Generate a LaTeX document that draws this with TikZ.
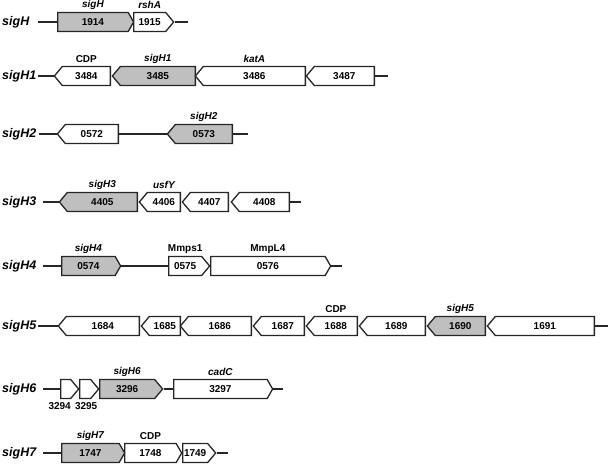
\documentclass[tikz,border=0pt]{standalone}
\usepackage{fontspec}
\setmainfont{Liberation Sans}
\usetikzlibrary{shapes.symbols}
\tikzstyle{gene} = [signal, signal from=nowhere, signal pointer angle=100, draw=black!85, line width=1.3pt, minimum height=19pt, inner sep=0pt, fill=white, font=\fontsize{10}{10}\selectfont\bfseries]
\tikzstyle{fwd} = [gene, signal to=east, anchor=west]
\tikzstyle{rev} = [gene, signal to=west, anchor=east]
\tikzstyle{blunt} = [signal pointer angle=120]
\tikzstyle{sigma} = [fill=black!25]
\tikzstyle{tag} = [inner sep=0pt, font=\fontsize{10}{10}\selectfont\bfseries]
\tikzstyle{gname} = [tag, font=\fontsize{10}{10}\selectfont\bfseries\itshape]
\tikzstyle{rowlabel} = [anchor=west, inner sep=0pt, font=\fontsize{12.5}{12.5}\selectfont\bfseries\itshape]
\tikzstyle{dna} = [line width=1.4pt, black!85]

\begin{document}
\begin{tikzpicture}[x=1pt, y=-1pt, node distance=17pt]
\useasboundingbox (0,0) rectangle (608,464);

% --------- sigH ----------
\node (rH) [rowlabel] at (2,22) {sigH};
\coordinate (aH) at (38,22);
\node (g1914) [fwd, blunt, sigma, minimum width=76pt] at (57,22) {1914};
\node (g1915) [fwd, minimum width=40pt] at (133,22) {1915};
\coordinate (bH) at (188,22);
\node (nH)   [gname, above of=g1914] {sigH};
\node (nRsh) [gname, above of=g1915] {rshA};
\draw [dna] (aH) -- (g1914.west);
\draw [dna] (g1915.east) -- (bH);

% --------- sigH1 ----------
\node (rH1) [rowlabel] at (2,76) {sigH1};
\coordinate (aH1) at (38,76);
\node (g3484) [rev, minimum width=56pt] at (111,76) {3484};
\node (g3485) [rev, sigma, minimum width=83pt] at (196,76) {3485};
\node (g3486) [rev, minimum width=110pt] at (306,76) {3486};
\node (g3487) [rev, minimum width=68pt] at (375,76) {3487};
\coordinate (bH1) at (388,76);
\node (tCdp1) [tag, above of=g3484] {CDP};
\node (nH1)   [gname, above of=g3485] {sigH1};
\node (nKat)  [gname, above of=g3486] {katA};
\draw [dna] (aH1) -- (g3484.west);
\draw [dna] (g3487.east) -- (bH1);

% --------- sigH2 ----------
\node (rH2) [rowlabel] at (2,134) {sigH2};
\coordinate (aH2) at (39,134);
\node (g0572) [rev, minimum width=61pt] at (119,134) {0572};
\node (g0573) [rev, sigma, minimum width=65pt] at (233,134) {0573};
\coordinate (bH2) at (248,134);
\node (nH2) [gname, above of=g0573] {sigH2};
\draw [dna] (aH2) -- (g0572.west);
\draw [dna] (g0572.east) -- (g0573.west);
\draw [dna] (g0573.east) -- (bH2);

% --------- sigH3 ----------
\node (rH3) [rowlabel] at (2,202) {sigH3};
\coordinate (aH3) at (43,202);
\node (g4405) [rev, sigma, minimum width=78pt] at (138,202) {4405};
\node (g4406) [rev, minimum width=41pt] at (181,202) {4406};
\node (g4407) [rev, minimum width=46pt] at (229,202) {4407};
\node (g4408) [rev, minimum width=58pt] at (290,202) {4408};
\coordinate (bH3) at (301,202);
\node (nH3)  [gname, above of=g4405] {sigH3};
\node (nUsf) [gname, above of=g4406] {usfY};
\draw [dna] (aH3) -- (g4405.west);
\draw [dna] (g4408.east) -- (bH3);

% --------- sigH4 ----------
\node (rH4) [rowlabel] at (2,266) {sigH4};
\coordinate (aH4) at (43,266);
\node (g0574) [fwd, blunt, sigma, minimum width=59pt] at (61,266) {0574};
\node (g0575) [fwd, minimum width=41pt] at (168,266) {0575};
\node (g0576) [fwd, blunt, minimum width=120pt] at (210,266) {0576};
\coordinate (bH4) at (342,266);
\node (nH4)   [gname, above of=g0574] {sigH4};
\node (tMmps) [tag, above of=g0575] {Mmps1};
\node (tMmpl) [tag, above of=g0576] {MmpL4};
\draw [dna] (aH4) -- (g0574.west);
\draw [dna] (g0574.east) -- (g0575.west);
\draw [dna] (g0576.east) -- (bH4);

% --------- sigH5 ----------
\node (rH5) [rowlabel] at (2,326) {sigH5};
\coordinate (aH5) at (38,326);
\node (g1684) [rev, minimum width=81pt] at (140,326) {1684};
\node (g1685) [rev, minimum width=39pt] at (181,326) {1685};
\node (g1686) [rev, minimum width=71pt] at (252,326) {1686};
\node (g1687) [rev, minimum width=51pt] at (305,326) {1687};
\node (g1688) [rev, minimum width=51pt] at (358,326) {1688};
\node (g1689) [rev, minimum width=66pt] at (426,326) {1689};
\node (g1690) [rev, sigma, minimum width=58pt] at (486,326) {1690};
\node (g1691) [rev, minimum width=107pt] at (595,326) {1691};
\coordinate (bH5) at (608,326);
\node (tCdp5) [tag, above of=g1688] {CDP};
\node (nH5)   [gname, above of=g1690] {sigH5};
\draw [dna] (aH5) -- (g1684.west);
\draw [dna] (g1691.east) -- (bH5);

% --------- sigH6 ----------
\node (rH6) [rowlabel] at (2,389) {sigH6};
\coordinate (aH6) at (43,389);
\node (g3294) [fwd, minimum width=18pt] at (60,389) {};
\node (g3295) [fwd, minimum width=19pt] at (79,389) {};
\node (g3296) [fwd, sigma, minimum width=63pt] at (99,389) {3296};
\node (g3297) [fwd, blunt, minimum width=99pt] at (173,389) {3297};
\coordinate (bH6) at (283,389);
\node (t3294) [tag, below of=g3294, xshift=-6pt] {3294};
\node (t3295) [tag, below of=g3295, xshift=1pt] {3295};
\node (nH6)   [gname, above of=g3296] {sigH6};
\node (nCad)  [gname, above of=g3297] {cadC};
\draw [dna] (aH6) -- (g3294.west);
\draw [dna] (g3296.east) -- (g3297.west);
\draw [dna] (g3297.east) -- (bH6);

% --------- sigH7 ----------
\node (rH7) [rowlabel] at (2,453) {sigH7};
\coordinate (aH7) at (43,453);
\node (g1747) [fwd, blunt, sigma, minimum width=63pt] at (61,453) {1747};
\node (g1748) [fwd, blunt, minimum width=57pt] at (124,453) {1748};
\node (g1749) [fwd, minimum width=33pt] at (182,453) {1749};
\coordinate (bH7) at (228,453);
\node (nH7)   [gname, above of=g1747] {sigH7};
\node (tCdp7) [tag, above of=g1748] {CDP};
\draw [dna] (aH7) -- (g1747.west);
\draw [dna] (g1749.east) -- (bH7);

\end{tikzpicture}
\end{document}
